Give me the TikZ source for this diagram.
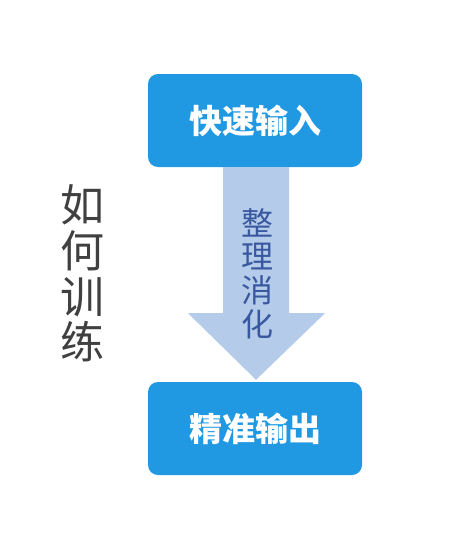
\documentclass[tikz,border=0pt]{standalone}
\usepackage{fontspec}
\newfontfamily\cjk{Noto Sans CJK SC}
\usetikzlibrary{calc}
\definecolor{boxblue}{RGB}{32,152,226}
\definecolor{arrowblue}{RGB}{180,204,234}
\definecolor{labelblue}{RGB}{58,88,160}
\definecolor{sidegray}{RGB}{64,64,64}

\begin{document}
\begin{tikzpicture}[x=1pt, y=-1pt,
    stagebox/.style={fill=boxblue, rounded corners=10pt, minimum width=214pt,
        minimum height=93pt, text=white, font=\cjk\bfseries\fontsize{33}{33}\selectfont}]
    \useasboundingbox (0,0) rectangle (460,538);
    % Draw boxes
    \node [stagebox] (input) at (255,120.5) {快速输入};
    \node [stagebox] (output) at (255,428.5) {精准输出};

    % Draw arrow between the boxes
    \coordinate (sl) at ($(input.south)+(-32,0)$);
    \coordinate (sr) at ($(input.south)+(34,0)$);
    \coordinate (nl) at ($(input.south)+(-32,146)$);
    \coordinate (nr) at ($(input.south)+(34,146)$);
    \coordinate (hl) at ($(input.south)+(-67,146)$);
    \coordinate (hr) at ($(input.south)+(70,146)$);
    \coordinate (tip) at ($(output.north)+(1,-2)$);
    \fill [arrowblue] (sl) -- (sr) -- (nr) -- (hr) -- (tip) -- (hl) -- (nl) -- cycle;
    \node [font=\cjk\fontsize{32}{33.7}\selectfont, text=labelblue, align=center] (digest) at (257,273.5) {整\\理\\消\\化};

    % Draw side title
    \node [font=\cjk\fontsize{44}{45.7}\selectfont, text=sidegray, align=center] (train) at (82,273.5) {如\\何\\训\\练};
\end{tikzpicture}
\end{document}
